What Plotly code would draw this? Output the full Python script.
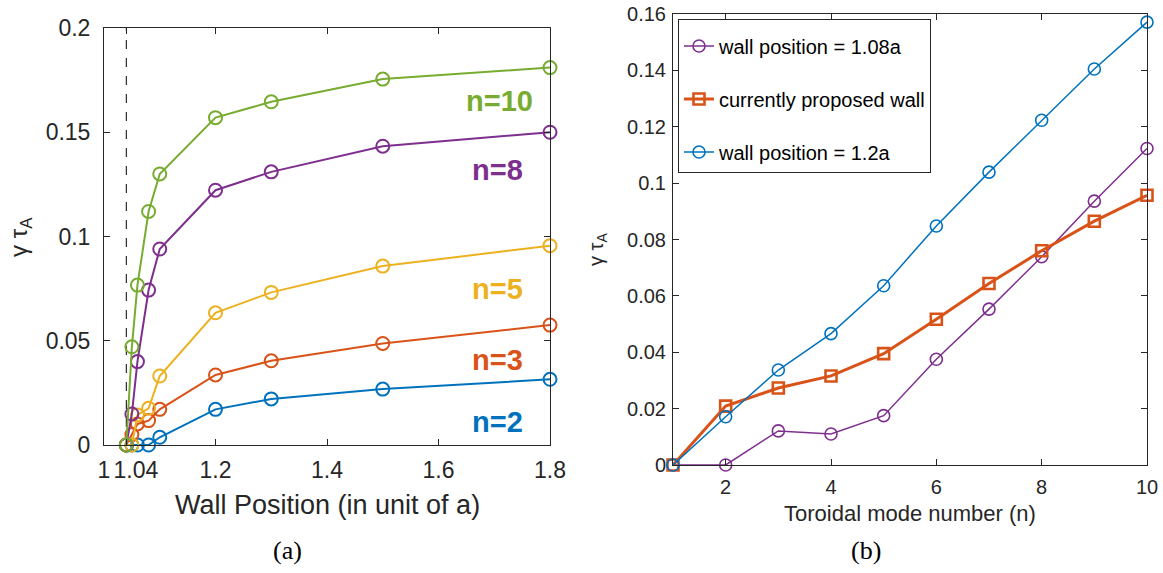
import plotly.graph_objects as go

# ---------------- data: panel (a) ----------------
wall_pos = [1.04, 1.05, 1.06, 1.08, 1.1, 1.2, 1.3, 1.5, 1.8]
growth_n2 = [0, 0, 0, 0, 0.0037, 0.0171, 0.0221, 0.0268, 0.0315]
growth_n3 = [0, 0.005, 0.0101, 0.0117, 0.0171, 0.0336, 0.0404, 0.0487, 0.0575]
growth_n5 = [0, 0, 0.0144, 0.0176, 0.0331, 0.0634, 0.0732, 0.0858, 0.0956]
growth_n8 = [0, 0.0149, 0.0400, 0.0743, 0.094, 0.1222, 0.131, 0.1433, 0.150]
growth_n10 = [0, 0.0471, 0.0767, 0.112, 0.130, 0.157, 0.1646, 0.1755, 0.181]
critical_wall = 1.04
series_names_a = ["n=2", "n=3", "n=5", "n=8", "n=10"]

# ---------------- data: panel (b) ----------------
mode_n = [1, 2, 3, 4, 5, 6, 7, 8, 9, 10]
wall_108 = [0, 0, 0.0121, 0.0110, 0.0175, 0.0375, 0.0553, 0.0739, 0.0936, 0.1123]
wall_proposed = [0, 0.0209, 0.0273, 0.0316, 0.0395, 0.0517, 0.0644, 0.0760, 0.0865, 0.0957]
wall_12 = [0, 0.0171, 0.0337, 0.0466, 0.0636, 0.0848, 0.1039, 0.1223, 0.1405, 0.1571]
legend_b = ["wall position = 1.08a", "currently proposed wall", "wall position = 1.2a"]

xticks_a = [1, 1.04, 1.2, 1.4, 1.6, 1.8]
xticktext_a = ["1", "\u00a0\u00a0\u00a01.04", "1.2", "1.4", "1.6", "1.8"]
yticks_a = [0, 0.05, 0.1, 0.15, 0.2]
yticktext_a = ["0", "0.05", "0.1", "0.15", "0.2"]

BLUE = "#0072BD"
ORANGE = "#D95319"
YELLOW = "#EDB120"
PURPLE = "#7E2F8E"
GREEN = "#77AC30"
AX = "#262626"
FONT = "Liberation Sans, Arial, sans-serif"

fig = go.Figure()

# dashed line at critical wall position
fig.add_trace(go.Scatter(x=[critical_wall, critical_wall], y=[0, 0.2], mode="lines",
                         line=dict(color="black", width=1, dash="dash"),
                         showlegend=False, xaxis="x", yaxis="y", hoverinfo="skip"))

colors_a = [BLUE, ORANGE, YELLOW, PURPLE, GREEN]
ys_a = [growth_n2, growth_n3, growth_n5, growth_n8, growth_n10]
for name, ys, c in zip(series_names_a, ys_a, colors_a):
    fig.add_trace(go.Scatter(x=wall_pos, y=ys, mode="lines+markers", name=name,
                             line=dict(color=c, width=2),
                             marker=dict(symbol="circle-open", size=13, color=c, line=dict(width=2, color=c)),
                             cliponaxis=False, showlegend=False, xaxis="x", yaxis="y"))

# label annotations for panel (a) series, placed at data coordinates
label_pos_a = [(1.705, 0.011), (1.705, 0.041), (1.705, 0.075), (1.705, 0.132), (1.71, 0.165)]
for name, (lx, ly), c in zip(series_names_a, label_pos_a, colors_a):
    fig.add_annotation(x=lx, y=ly, xref="x", yref="y", text="<b>%s</b>" % name, showarrow=False,
                       xanchor="center", yanchor="middle",
                       font=dict(family=FONT, size=29, color=c))

# panel (b)
fig.add_trace(go.Scatter(x=mode_n, y=wall_108, mode="lines+markers", name=legend_b[0],
                         line=dict(color=PURPLE, width=1.5),
                         marker=dict(symbol="circle-open", size=12, color=PURPLE, line=dict(width=1.6, color=PURPLE)),
                         cliponaxis=False, xaxis="x2", yaxis="y2", legendgroup="a"))
fig.add_trace(go.Scatter(x=mode_n, y=wall_proposed, mode="lines+markers", name=legend_b[1],
                         line=dict(color=ORANGE, width=3),
                         marker=dict(symbol="square-open", size=11, color=ORANGE, line=dict(width=2.6, color=ORANGE)),
                         cliponaxis=False, xaxis="x2", yaxis="y2", legendgroup="b"))
fig.add_trace(go.Scatter(x=mode_n, y=wall_12, mode="lines+markers", name=legend_b[2],
                         line=dict(color=BLUE, width=1.5),
                         marker=dict(symbol="circle-open", size=12, color=BLUE, line=dict(width=1.6, color=BLUE)),
                         cliponaxis=False, xaxis="x2", yaxis="y2", legendgroup="c"))

W, H = 1163, 573
axis_common = dict(showline=True, linecolor=AX, linewidth=1, mirror="ticks", ticks="inside",
                   tickcolor=AX, ticklen=6, showgrid=False, zeroline=False, tickangle=0,
                   automargin=False)

fig.update_layout(
    width=W, height=H, margin=dict(l=0, r=0, t=0, b=0, autoexpand=False),
    paper_bgcolor="white", plot_bgcolor="white",
    xaxis=dict(domain=[104 / W, 550 / W], range=[1, 1.8], anchor="y",
               tickvals=xticks_a, ticktext=xticktext_a, ticklabelstandoff=4,
               tickfont=dict(family=FONT, color=AX, size=23), **axis_common),
    yaxis=dict(domain=[1 - 445 / H, 1 - 28 / H], range=[0, 0.2], anchor="x",
               tickvals=yticks_a, ticktext=yticktext_a, ticklabelstandoff=8,
               tickfont=dict(family=FONT, color=AX, size=23), **axis_common),
    xaxis2=dict(domain=[673 / W, 1147 / W], range=[1, 10], anchor="y2", dtick=2, tick0=0,
                ticklabelstandoff=4,
                tickfont=dict(family=FONT, color=AX, size=20), **axis_common),
    yaxis2=dict(domain=[1 - 465 / H, 1 - 14 / H], range=[0, 0.16], anchor="x2", dtick=0.02,
                ticklabelstandoff=2,
                tickfont=dict(family=FONT, color=AX, size=20), **axis_common),
    showlegend=True,
    legend=dict(x=678 / W, y=1 - 19 / H, xanchor="left", yanchor="top",
                bgcolor="white", bordercolor=AX, borderwidth=1,
                font=dict(family=FONT, size=20, color="black"),
                title=dict(text="\u00a0", font=dict(size=5)),
                itemwidth=30, tracegroupgap=24, traceorder="grouped"),
)

# axis titles and captions
def paper_text(x, y, text, size, family=FONT, color=AX, angle=0):
    fig.add_annotation(x=x / W, y=1 - y / H, xref="paper", yref="paper", showarrow=False,
                       xanchor="center", yanchor="middle", textangle=angle,
                       text=text, font=dict(family=family, size=size, color=color))

paper_text(327, 505, "Wall Position (in unit of a)", 27)
paper_text(20, 237, "γ τ<sub>A</sub>", 24, angle=-90)
paper_text(910, 513, "Toroidal mode number (n)", 22)
paper_text(597, 250, "γ τ<sub>A</sub>", 20, angle=-90)
paper_text(287, 550, "(a)", 26, family="Liberation Serif, serif", color="black")
paper_text(866, 550, "(b)", 26, family="Liberation Serif, serif", color="black")

fig.write_html("out.html")
